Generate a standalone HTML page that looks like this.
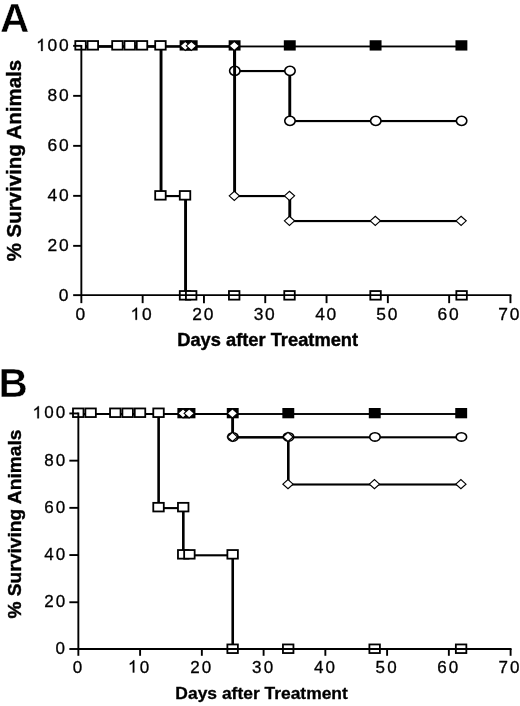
<!DOCTYPE html>
<html><head><meta charset="utf-8"><style>
html,body{margin:0;padding:0;background:#fff;}
svg{display:block;will-change:transform;}
text{font-family:"Liberation Sans",sans-serif;fill:#000;}
</style></head><body>
<svg width="520" height="706" viewBox="0 0 520 706">
<rect width="520" height="706" fill="#fff"/>
<rect x="81.35" y="45.53" width="153.25" height="1.85"/>
<rect x="233.15" y="45.38" width="2.9" height="26.75"/>
<rect x="234.60" y="69.98" width="55.17" height="2.15"/>
<rect x="288.32" y="69.98" width="2.9" height="52.15"/>
<rect x="289.77" y="119.98" width="171.64" height="2.15"/>
<path d="M234.80 66.25C238.34 66.25 240.00 68.92 240.00 70.85C240.00 72.78 238.34 75.45 234.80 75.45C231.26 75.45 229.60 72.78 229.60 70.85C229.60 68.92 231.26 66.25 234.80 66.25Z" fill="#fff" stroke="#000" stroke-width="1.6"/>
<path d="M289.97 66.25C293.51 66.25 295.17 68.92 295.17 70.85C295.17 72.78 293.51 75.45 289.97 75.45C286.43 75.45 284.77 72.78 284.77 70.85C284.77 68.92 286.43 66.25 289.97 66.25Z" fill="#fff" stroke="#000" stroke-width="1.6"/>
<path d="M289.97 116.25C293.51 116.25 295.17 118.92 295.17 120.85C295.17 122.78 293.51 125.45 289.97 125.45C286.43 125.45 284.77 122.78 284.77 120.85C284.77 118.92 286.43 116.25 289.97 116.25Z" fill="#fff" stroke="#000" stroke-width="1.6"/>
<path d="M375.79 116.25C379.33 116.25 380.99 118.92 380.99 120.85C380.99 122.78 379.33 125.45 375.79 125.45C372.25 125.45 370.59 122.78 370.59 120.85C370.59 118.92 372.25 116.25 375.79 116.25Z" fill="#fff" stroke="#000" stroke-width="1.6"/>
<path d="M461.61 116.25C465.15 116.25 466.81 118.92 466.81 120.85C466.81 122.78 465.15 125.45 461.61 125.45C458.07 125.45 456.41 122.78 456.41 120.85C456.41 118.92 458.07 116.25 461.61 116.25Z" fill="#fff" stroke="#000" stroke-width="1.6"/>
<rect x="81.35" y="45.53" width="380.06" height="1.85"/>
<rect x="179.61" y="40.25" width="11.90" height="10.30" fill="#000"/>
<rect x="185.74" y="40.25" width="11.90" height="10.30" fill="#000"/>
<rect x="228.65" y="40.25" width="11.90" height="10.30" fill="#000"/>
<rect x="283.82" y="40.25" width="11.90" height="10.30" fill="#000"/>
<rect x="369.64" y="40.25" width="11.90" height="10.30" fill="#000"/>
<rect x="455.46" y="40.25" width="11.90" height="10.30" fill="#000"/>
<rect x="81.35" y="45.53" width="153.25" height="1.85"/>
<rect x="233.15" y="45.38" width="2.9" height="151.75"/>
<rect x="234.60" y="194.98" width="55.17" height="2.15"/>
<rect x="288.32" y="194.98" width="2.9" height="27.15"/>
<rect x="289.77" y="219.98" width="171.64" height="2.15"/>
<path d="M180.16 45.85L185.26 41.25L190.36 45.85L185.26 50.45Z" fill="#fff" stroke="#000" stroke-width="1.15" stroke-linejoin="miter"/>
<path d="M186.29 45.85L191.39 41.25L196.49 45.85L191.39 50.45Z" fill="#fff" stroke="#000" stroke-width="1.15" stroke-linejoin="miter"/>
<path d="M229.20 45.85L234.30 41.25L239.40 45.85L234.30 50.45Z" fill="#fff" stroke="#000" stroke-width="1.15" stroke-linejoin="miter"/>
<path d="M229.20 195.85L234.30 191.25L239.40 195.85L234.30 200.45Z" fill="#fff" stroke="#000" stroke-width="1.15" stroke-linejoin="miter"/>
<path d="M284.37 195.85L289.47 191.25L294.57 195.85L289.47 200.45Z" fill="#fff" stroke="#000" stroke-width="1.15" stroke-linejoin="miter"/>
<path d="M284.37 220.85L289.47 216.25L294.57 220.85L289.47 225.45Z" fill="#fff" stroke="#000" stroke-width="1.15" stroke-linejoin="miter"/>
<path d="M370.19 220.85L375.29 216.25L380.39 220.85L375.29 225.45Z" fill="#fff" stroke="#000" stroke-width="1.15" stroke-linejoin="miter"/>
<path d="M456.01 220.85L461.11 216.25L466.21 220.85L461.11 225.45Z" fill="#fff" stroke="#000" stroke-width="1.15" stroke-linejoin="miter"/>
<rect x="81.35" y="45.53" width="79.69" height="1.85"/>
<rect x="159.59" y="45.38" width="2.9" height="151.75"/>
<rect x="161.04" y="194.98" width="24.52" height="2.15"/>
<rect x="184.11" y="194.98" width="2.9" height="101.25"/>
<rect x="75.30" y="41.05" width="10.50" height="8.60" fill="#fff" stroke="#000" stroke-width="1.8"/>
<rect x="87.59" y="41.05" width="10.50" height="8.60" fill="#fff" stroke="#000" stroke-width="1.8"/>
<rect x="112.18" y="41.05" width="10.50" height="8.60" fill="#fff" stroke="#000" stroke-width="1.8"/>
<rect x="124.47" y="41.05" width="10.50" height="8.60" fill="#fff" stroke="#000" stroke-width="1.8"/>
<rect x="136.76" y="41.05" width="10.50" height="8.60" fill="#fff" stroke="#000" stroke-width="1.8"/>
<rect x="155.20" y="41.05" width="10.50" height="8.60" fill="#fff" stroke="#000" stroke-width="1.8"/>
<rect x="155.20" y="191.05" width="10.50" height="8.60" fill="#fff" stroke="#000" stroke-width="1.8"/>
<rect x="179.78" y="191.05" width="10.50" height="8.60" fill="#fff" stroke="#000" stroke-width="1.8"/>
<rect x="179.78" y="291.05" width="10.50" height="8.60" fill="#fff" stroke="#000" stroke-width="1.8"/>
<rect x="185.93" y="291.05" width="10.50" height="8.60" fill="#fff" stroke="#000" stroke-width="1.8"/>
<rect x="228.95" y="291.05" width="10.50" height="8.60" fill="#fff" stroke="#000" stroke-width="1.8"/>
<rect x="284.26" y="291.05" width="10.50" height="8.60" fill="#fff" stroke="#000" stroke-width="1.8"/>
<rect x="370.31" y="291.05" width="10.50" height="8.60" fill="#fff" stroke="#000" stroke-width="1.8"/>
<rect x="456.35" y="291.05" width="10.50" height="8.60" fill="#fff" stroke="#000" stroke-width="1.8"/>
<path d="M81.35 45.85V295.15H510.45" fill="none" stroke="#000" stroke-width="1.9" stroke-linejoin="miter" stroke-linecap="square"/>
<path d="M73.15 295.15H81.35" stroke="#000" stroke-width="1.9"/>
<path d="M73.15 245.85H81.35" stroke="#000" stroke-width="1.9"/>
<path d="M73.15 195.85H81.35" stroke="#000" stroke-width="1.9"/>
<path d="M73.15 145.85H81.35" stroke="#000" stroke-width="1.9"/>
<path d="M73.15 95.85H81.35" stroke="#000" stroke-width="1.9"/>
<path d="M73.15 45.85H81.35" stroke="#000" stroke-width="1.9"/>
<path d="M81.35 295.15V303.15" stroke="#000" stroke-width="1.9"/>
<path d="M142.65 295.15V303.15" stroke="#000" stroke-width="1.9"/>
<path d="M203.95 295.15V303.15" stroke="#000" stroke-width="1.9"/>
<path d="M265.25 295.15V303.15" stroke="#000" stroke-width="1.9"/>
<path d="M326.55 295.15V303.15" stroke="#000" stroke-width="1.9"/>
<path d="M387.85 295.15V303.15" stroke="#000" stroke-width="1.9"/>
<path d="M449.15 295.15V303.15" stroke="#000" stroke-width="1.9"/>
<path d="M510.45 295.15V303.15" stroke="#000" stroke-width="1.9"/>
<rect x="78.35" y="413.05" width="154.38" height="1.9"/>
<rect x="231.42" y="412.95" width="2.6" height="25.40"/>
<rect x="232.72" y="436.25" width="228.47" height="2.1"/>
<path d="M232.92 432.75C236.46 432.75 238.12 435.19 238.12 436.95C238.12 438.71 236.46 441.15 232.92 441.15C229.39 441.15 227.72 438.71 227.72 436.95C227.72 435.19 229.39 432.75 232.92 432.75Z" fill="#fff" stroke="#000" stroke-width="1.6"/>
<path d="M288.50 432.75C292.04 432.75 293.70 435.19 293.70 436.95C293.70 438.71 292.04 441.15 288.50 441.15C284.96 441.15 283.30 438.71 283.30 436.95C283.30 435.19 284.96 432.75 288.50 432.75Z" fill="#fff" stroke="#000" stroke-width="1.6"/>
<path d="M374.95 432.75C378.49 432.75 380.15 435.19 380.15 436.95C380.15 438.71 378.49 441.15 374.95 441.15C371.41 441.15 369.75 438.71 369.75 436.95C369.75 435.19 371.41 432.75 374.95 432.75Z" fill="#fff" stroke="#000" stroke-width="1.6"/>
<path d="M461.40 432.75C464.94 432.75 466.60 435.19 466.60 436.95C466.60 438.71 464.94 441.15 461.40 441.15C457.86 441.15 456.20 438.71 456.20 436.95C456.20 435.19 457.86 432.75 461.40 432.75Z" fill="#fff" stroke="#000" stroke-width="1.6"/>
<rect x="78.35" y="413.05" width="382.85" height="1.9"/>
<rect x="177.38" y="408.00" width="11.90" height="10.30" fill="#000"/>
<rect x="183.55" y="408.00" width="11.90" height="10.30" fill="#000"/>
<rect x="226.78" y="408.00" width="11.90" height="10.30" fill="#000"/>
<rect x="282.35" y="408.00" width="11.90" height="10.30" fill="#000"/>
<rect x="368.80" y="408.00" width="11.90" height="10.30" fill="#000"/>
<rect x="455.25" y="408.00" width="11.90" height="10.30" fill="#000"/>
<rect x="78.35" y="413.05" width="154.38" height="1.9"/>
<rect x="231.42" y="412.95" width="2.6" height="25.40"/>
<rect x="232.72" y="436.25" width="55.57" height="2.1"/>
<rect x="287.00" y="436.25" width="2.6" height="49.30"/>
<rect x="288.30" y="483.45" width="172.90" height="2.1"/>
<path d="M177.92 413.35L183.02 408.75L188.12 413.35L183.02 417.95Z" fill="#fff" stroke="#000" stroke-width="1.15" stroke-linejoin="miter"/>
<path d="M184.10 413.35L189.20 408.75L194.30 413.35L189.20 417.95Z" fill="#fff" stroke="#000" stroke-width="1.15" stroke-linejoin="miter"/>
<path d="M227.32 413.35L232.42 408.75L237.52 413.35L232.42 417.95Z" fill="#fff" stroke="#000" stroke-width="1.15" stroke-linejoin="miter"/>
<path d="M227.32 436.95L232.42 432.35L237.52 436.95L232.42 441.55Z" fill="#fff" stroke="#000" stroke-width="1.15" stroke-linejoin="miter"/>
<path d="M282.90 436.95L288.00 432.35L293.10 436.95L288.00 441.55Z" fill="#fff" stroke="#000" stroke-width="1.15" stroke-linejoin="miter"/>
<path d="M282.90 484.15L288.00 479.55L293.10 484.15L288.00 488.75Z" fill="#fff" stroke="#000" stroke-width="1.15" stroke-linejoin="miter"/>
<path d="M369.35 484.15L374.45 479.55L379.55 484.15L374.45 488.75Z" fill="#fff" stroke="#000" stroke-width="1.15" stroke-linejoin="miter"/>
<path d="M455.80 484.15L460.90 479.55L466.00 484.15L460.90 488.75Z" fill="#fff" stroke="#000" stroke-width="1.15" stroke-linejoin="miter"/>
<rect x="78.35" y="413.05" width="80.28" height="1.9"/>
<rect x="157.32" y="412.95" width="2.6" height="96.20"/>
<rect x="158.62" y="507.05" width="24.70" height="2.1"/>
<rect x="182.02" y="507.05" width="2.6" height="49.30"/>
<rect x="183.32" y="554.25" width="49.40" height="2.1"/>
<rect x="231.42" y="554.25" width="2.6" height="95.80"/>
<rect x="73.00" y="408.45" width="10.50" height="8.60" fill="#fff" stroke="#000" stroke-width="1.8"/>
<rect x="85.35" y="408.45" width="10.50" height="8.60" fill="#fff" stroke="#000" stroke-width="1.8"/>
<rect x="110.05" y="408.45" width="10.50" height="8.60" fill="#fff" stroke="#000" stroke-width="1.8"/>
<rect x="122.40" y="408.45" width="10.50" height="8.60" fill="#fff" stroke="#000" stroke-width="1.8"/>
<rect x="134.75" y="408.45" width="10.50" height="8.60" fill="#fff" stroke="#000" stroke-width="1.8"/>
<rect x="153.28" y="408.45" width="10.50" height="8.60" fill="#fff" stroke="#000" stroke-width="1.8"/>
<rect x="153.28" y="502.85" width="10.50" height="8.60" fill="#fff" stroke="#000" stroke-width="1.8"/>
<rect x="177.97" y="502.85" width="10.50" height="8.60" fill="#fff" stroke="#000" stroke-width="1.8"/>
<rect x="177.97" y="550.05" width="10.50" height="8.60" fill="#fff" stroke="#000" stroke-width="1.8"/>
<rect x="184.15" y="550.05" width="10.50" height="8.60" fill="#fff" stroke="#000" stroke-width="1.8"/>
<rect x="227.38" y="550.05" width="10.50" height="8.60" fill="#fff" stroke="#000" stroke-width="1.8"/>
<rect x="227.38" y="644.45" width="10.50" height="8.60" fill="#fff" stroke="#000" stroke-width="1.8"/>
<rect x="282.95" y="644.45" width="10.50" height="8.60" fill="#fff" stroke="#000" stroke-width="1.8"/>
<rect x="369.40" y="644.45" width="10.50" height="8.60" fill="#fff" stroke="#000" stroke-width="1.8"/>
<rect x="455.85" y="644.45" width="10.50" height="8.60" fill="#fff" stroke="#000" stroke-width="1.8"/>
<path d="M78.35 413.45V649.00H510.60" fill="none" stroke="#000" stroke-width="1.9" stroke-linejoin="miter" stroke-linecap="square"/>
<path d="M69.35 649.00H78.35" stroke="#000" stroke-width="1.9"/>
<path d="M69.35 602.25H78.35" stroke="#000" stroke-width="1.9"/>
<path d="M69.35 555.05H78.35" stroke="#000" stroke-width="1.9"/>
<path d="M69.35 507.85H78.35" stroke="#000" stroke-width="1.9"/>
<path d="M69.35 460.65H78.35" stroke="#000" stroke-width="1.9"/>
<path d="M69.35 413.45H78.35" stroke="#000" stroke-width="1.9"/>
<path d="M78.35 649.00V655.80" stroke="#000" stroke-width="1.9"/>
<path d="M140.10 649.00V655.80" stroke="#000" stroke-width="1.9"/>
<path d="M201.85 649.00V655.80" stroke="#000" stroke-width="1.9"/>
<path d="M263.60 649.00V655.80" stroke="#000" stroke-width="1.9"/>
<path d="M325.35 649.00V655.80" stroke="#000" stroke-width="1.9"/>
<path d="M387.10 649.00V655.80" stroke="#000" stroke-width="1.9"/>
<path d="M448.85 649.00V655.80" stroke="#000" stroke-width="1.9"/>
<path d="M510.60 649.00V655.80" stroke="#000" stroke-width="1.9"/>
<text x="0.11" y="31.60" font-size="40.6" font-weight="bold" stroke="#fff" stroke-width="0.45">A</text>
<text x="-1.51" y="397.10" font-size="40.6" font-weight="bold" stroke="#fff" stroke-width="0.45">B</text>
<text x="177.21" y="345.9" font-size="18.3" font-weight="bold" stroke="#000" stroke-width="0.4">Days after Treatment</text>
<text transform="translate(175.37,698.8) scale(1.0508,1)" font-size="16.6" font-weight="bold" stroke="#000" stroke-width="0.3">Days after Treatment</text>
<text transform="translate(21.0,261.31) rotate(-90)" x="0" y="0" font-size="20.45" font-weight="bold" stroke="#000" stroke-width="0.4">% Surviving Animals</text>
<text transform="translate(20.6,618.58) rotate(-90)" x="0" y="0" font-size="19.19" font-weight="bold" stroke="#000" stroke-width="0.4">% Surviving Animals</text>
<text transform="translate(58.64,300.95) scale(1.03,1)" font-size="16.9" stroke="#000" stroke-width="0.3">0</text>
<text transform="translate(47.55,250.95) scale(1.03,1)" font-size="16.9" stroke="#000" stroke-width="0.3">2</text><text transform="translate(58.94,250.95) scale(1.03,1)" font-size="16.9" stroke="#000" stroke-width="0.3">0</text>
<text transform="translate(47.55,200.95) scale(1.03,1)" font-size="16.9" stroke="#000" stroke-width="0.3">4</text><text transform="translate(58.94,200.95) scale(1.03,1)" font-size="16.9" stroke="#000" stroke-width="0.3">0</text>
<text transform="translate(47.55,150.95) scale(1.03,1)" font-size="16.9" stroke="#000" stroke-width="0.3">6</text><text transform="translate(58.94,150.95) scale(1.03,1)" font-size="16.9" stroke="#000" stroke-width="0.3">0</text>
<text transform="translate(47.55,100.95) scale(1.03,1)" font-size="16.9" stroke="#000" stroke-width="0.3">8</text><text transform="translate(58.94,100.95) scale(1.03,1)" font-size="16.9" stroke="#000" stroke-width="0.3">0</text>
<path transform="translate(36.17,50.95) scale(0.00850,-0.00825)" d="M763 0H583V1147Q518 1085 412 1023Q306 961 222 930V1104Q373 1175 486 1276Q599 1377 646 1472H763Z" stroke="#000" stroke-width="36.4"/><text transform="translate(47.55,50.95) scale(1.03,1)" font-size="16.9" stroke="#000" stroke-width="0.3">0</text><text transform="translate(58.94,50.95) scale(1.03,1)" font-size="16.9" stroke="#000" stroke-width="0.3">0</text>
<text transform="translate(75.52,319.80) scale(1.03,1)" font-size="16.9" stroke="#000" stroke-width="0.3">0</text>
<path transform="translate(130.53,319.80) scale(0.00850,-0.00825)" d="M763 0H583V1147Q518 1085 412 1023Q306 961 222 930V1104Q373 1175 486 1276Q599 1377 646 1472H763Z" stroke="#000" stroke-width="36.4"/><text transform="translate(141.91,319.80) scale(1.03,1)" font-size="16.9" stroke="#000" stroke-width="0.3">0</text>
<text transform="translate(192.34,319.80) scale(1.03,1)" font-size="16.9" stroke="#000" stroke-width="0.3">2</text><text transform="translate(203.72,319.80) scale(1.03,1)" font-size="16.9" stroke="#000" stroke-width="0.3">0</text>
<text transform="translate(253.73,319.80) scale(1.03,1)" font-size="16.9" stroke="#000" stroke-width="0.3">3</text><text transform="translate(265.11,319.80) scale(1.03,1)" font-size="16.9" stroke="#000" stroke-width="0.3">0</text>
<text transform="translate(315.16,319.80) scale(1.03,1)" font-size="16.9" stroke="#000" stroke-width="0.3">4</text><text transform="translate(326.54,319.80) scale(1.03,1)" font-size="16.9" stroke="#000" stroke-width="0.3">0</text>
<text transform="translate(376.33,319.80) scale(1.03,1)" font-size="16.9" stroke="#000" stroke-width="0.3">5</text><text transform="translate(387.71,319.80) scale(1.03,1)" font-size="16.9" stroke="#000" stroke-width="0.3">0</text>
<text transform="translate(437.54,319.80) scale(1.03,1)" font-size="16.9" stroke="#000" stroke-width="0.3">6</text><text transform="translate(448.92,319.80) scale(1.03,1)" font-size="16.9" stroke="#000" stroke-width="0.3">0</text>
<text transform="translate(498.34,319.80) scale(1.03,1)" font-size="16.9" stroke="#000" stroke-width="0.3">7</text><text transform="translate(509.72,319.80) scale(1.03,1)" font-size="16.9" stroke="#000" stroke-width="0.3">0</text>
<text transform="translate(55.54,654.35) scale(1.0,1)" font-size="17.0" stroke="#000" stroke-width="0.3">0</text>
<text transform="translate(44.19,607.15) scale(1.0,1)" font-size="17.0" stroke="#000" stroke-width="0.3">2</text><text transform="translate(55.84,607.15) scale(1.0,1)" font-size="17.0" stroke="#000" stroke-width="0.3">0</text>
<text transform="translate(44.19,559.95) scale(1.0,1)" font-size="17.0" stroke="#000" stroke-width="0.3">4</text><text transform="translate(55.84,559.95) scale(1.0,1)" font-size="17.0" stroke="#000" stroke-width="0.3">0</text>
<text transform="translate(44.19,512.75) scale(1.0,1)" font-size="17.0" stroke="#000" stroke-width="0.3">6</text><text transform="translate(55.84,512.75) scale(1.0,1)" font-size="17.0" stroke="#000" stroke-width="0.3">0</text>
<text transform="translate(44.19,465.55) scale(1.0,1)" font-size="17.0" stroke="#000" stroke-width="0.3">8</text><text transform="translate(55.84,465.55) scale(1.0,1)" font-size="17.0" stroke="#000" stroke-width="0.3">0</text>
<path transform="translate(32.54,418.35) scale(0.00830,-0.00830)" d="M763 0H583V1147Q518 1085 412 1023Q306 961 222 930V1104Q373 1175 486 1276Q599 1377 646 1472H763Z" stroke="#000" stroke-width="36.1"/><text transform="translate(44.19,418.35) scale(1.0,1)" font-size="17.0" stroke="#000" stroke-width="0.3">0</text><text transform="translate(55.84,418.35) scale(1.0,1)" font-size="17.0" stroke="#000" stroke-width="0.3">0</text>
<text transform="translate(72.63,672.50) scale(1.0,1)" font-size="17.0" stroke="#000" stroke-width="0.3">0</text>
<path transform="translate(127.97,672.50) scale(0.00830,-0.00830)" d="M763 0H583V1147Q518 1085 412 1023Q306 961 222 930V1104Q373 1175 486 1276Q599 1377 646 1472H763Z" stroke="#000" stroke-width="36.1"/><text transform="translate(139.63,672.50) scale(1.0,1)" font-size="17.0" stroke="#000" stroke-width="0.3">0</text>
<text transform="translate(190.22,672.50) scale(1.0,1)" font-size="17.0" stroke="#000" stroke-width="0.3">2</text><text transform="translate(201.87,672.50) scale(1.0,1)" font-size="17.0" stroke="#000" stroke-width="0.3">0</text>
<text transform="translate(252.06,672.50) scale(1.0,1)" font-size="17.0" stroke="#000" stroke-width="0.3">3</text><text transform="translate(263.71,672.50) scale(1.0,1)" font-size="17.0" stroke="#000" stroke-width="0.3">0</text>
<text transform="translate(313.93,672.50) scale(1.0,1)" font-size="17.0" stroke="#000" stroke-width="0.3">4</text><text transform="translate(325.59,672.50) scale(1.0,1)" font-size="17.0" stroke="#000" stroke-width="0.3">0</text>
<text transform="translate(375.56,672.50) scale(1.0,1)" font-size="17.0" stroke="#000" stroke-width="0.3">5</text><text transform="translate(387.21,672.50) scale(1.0,1)" font-size="17.0" stroke="#000" stroke-width="0.3">0</text>
<text transform="translate(437.22,672.50) scale(1.0,1)" font-size="17.0" stroke="#000" stroke-width="0.3">6</text><text transform="translate(448.87,672.50) scale(1.0,1)" font-size="17.0" stroke="#000" stroke-width="0.3">0</text>
<text transform="translate(498.47,672.50) scale(1.0,1)" font-size="17.0" stroke="#000" stroke-width="0.3">7</text><text transform="translate(510.12,672.50) scale(1.0,1)" font-size="17.0" stroke="#000" stroke-width="0.3">0</text>
</svg>
</body></html>
